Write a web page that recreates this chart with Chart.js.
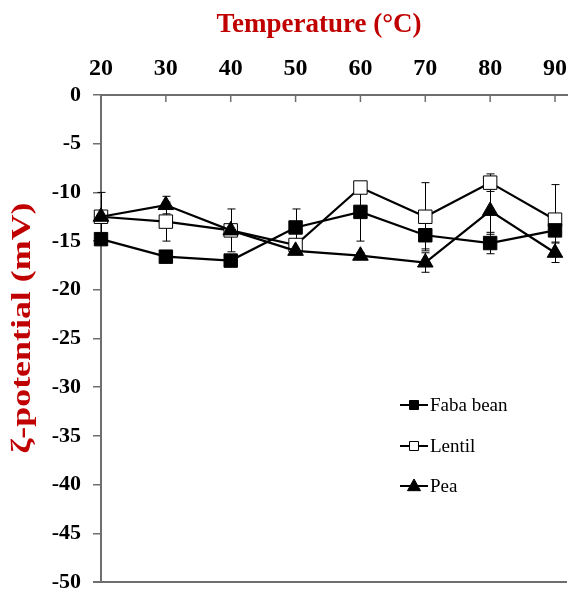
<!DOCTYPE html>
<html>
<head>
<meta charset="utf-8">
<script src="https://cdn.jsdelivr.net/npm/chart.js@4.4.0/dist/chart.umd.min.js"></script>
<style>
  body { margin: 0; background: #fff; }
  #wrap { width: 568px; height: 589px; }
</style>
</head>
<body>
<div id="wrap"><canvas id="zeta-chart" width="568" height="589"></canvas></div>
<script>
// temperatures (°C) and zeta potential (mV)
const temps = [20, 30, 40, 50, 60, 70, 80, 90];
const fabaBean = [-14.8, -16.6, -17.0, -13.6, -12.0, -14.4, -15.2, -13.9];
const lentil = [-12.5, -13.0, -13.9, -15.4, -9.5, -12.5, -9.0, -12.8];
const pea = [-12.5, -11.3, -13.9, -16.0, -16.5, -17.2, -11.9, -16.2];
// error bars (+/-)
const fabaErr = [0.3, 0.5, 0.5, 1.9, 3.0, 1.4, 1.1, 1.2];
const lentilErr = [2.5, 2.0, 0.5, 0.5, 0.5, 3.5, 0.9, 3.6];
const peaErr = [0.3, 0.9, 2.2, 0.3, 0.3, 1.0, 2.4, 1.0];
const yTicks = [0, -5, -10, -15, -20, -25, -30, -35, -40, -45, -50];

const xTitle = "Temperature (°C)";
const yTitle = "ζ-potential (mV)";
const red = "#c00000";
const axisGray = "#6e6e6e";

function toPoints(vals) {
    return temps.map((t, i) => ({ x: t, y: vals[i] }));
}

const series = [
    { label: "Faba bean", data: fabaBean, err: fabaErr, style: "rect", fill: "#000", order: 1 },
    { label: "Lentil", data: lentil, err: lentilErr, style: "rect", fill: "#fff", order: 2 },
    { label: "Pea", data: pea, err: peaErr, style: "triangle", fill: "#000", order: 0 }
];

function drawMarker(ctx, style, x, y, size, fill) {
    ctx.save();
    ctx.fillStyle = fill;
    ctx.strokeStyle = "#000";
    ctx.lineWidth = 1;
    ctx.beginPath();
    if (style === "rect") {
        ctx.rect(x - size / 2, y - size / 2, size, size);
    } else {
        const h = size * 0.9;
        ctx.moveTo(x, y - h * 0.6);
        ctx.lineTo(x + size / 2, y + h * 0.4);
        ctx.lineTo(x - size / 2, y + h * 0.4);
        ctx.closePath();
    }
    ctx.fill();
    ctx.stroke();
    ctx.restore();
}

// drop the extra room Chart.js keeps for half of the edge labels
function noEdgePadding(scale) {
    scale.paddingLeft = 0;
    scale.paddingRight = 0;
    scale.paddingTop = 0;
    scale.paddingBottom = 0;
}

const extras = {
    id: "extras",
    beforeDatasetsDraw(chart) {
        const ctx = chart.ctx;
        const xs = chart.scales.x, ys = chart.scales.y;
        ctx.save();
        ctx.strokeStyle = "#000";
        ctx.lineWidth = 1;
        series.forEach(s => {
            s.data.forEach((v, i) => {
                const px = Math.round(xs.getPixelForValue(temps[i])) + 0.5;
                const top = ys.getPixelForValue(v + s.err[i]);
                const bot = ys.getPixelForValue(v - s.err[i]);
                ctx.beginPath();
                ctx.moveTo(px, top); ctx.lineTo(px, bot);
                ctx.moveTo(px - 4, top); ctx.lineTo(px + 4, top);
                ctx.moveTo(px - 4, bot); ctx.lineTo(px + 4, bot);
                ctx.stroke();
            });
        });
        ctx.restore();
    },
    afterDraw(chart) {
        const ctx = chart.ctx;
        const area = chart.chartArea;
        const xs = chart.scales.x;
        ctx.save();
        // inward ticks on the top axis
        ctx.strokeStyle = axisGray;
        ctx.lineWidth = 1.5;
        temps.forEach(t => {
            const px = xs.getPixelForValue(t);
            ctx.beginPath();
            ctx.moveTo(px, area.top);
            ctx.lineTo(px, area.top + 7);
            ctx.stroke();
        });
        // bottom frame line
        ctx.lineWidth = 2;
        ctx.beginPath();
        ctx.moveTo(area.left - 8, area.bottom);
        ctx.lineTo(area.right, area.bottom);
        ctx.stroke();

        // titles
        ctx.fillStyle = red;
        ctx.font = "bold 27px 'Liberation Serif'";
        ctx.textAlign = "center";
        ctx.textBaseline = "middle";
        ctx.fillText(xTitle, 319, 25);
        ctx.translate(23, 328);
        ctx.rotate(-Math.PI / 2);
        ctx.font = "bold 28px 'Liberation Serif'";
        const w = ctx.measureText(yTitle).width;
        ctx.scale(251 / w, 1);
        ctx.fillText(yTitle, 0, 0);
        ctx.restore();

        // legend inside the plot
        ctx.save();
        ctx.font = "19px 'Liberation Serif'";
        ctx.textAlign = "left";
        ctx.textBaseline = "middle";
        ctx.fillStyle = "#000";
        const lx = 400, ly = [405, 446, 486];
        series.forEach((s, i) => {
            ctx.strokeStyle = "#000";
            ctx.lineWidth = 2;
            ctx.beginPath();
            ctx.moveTo(lx, ly[i]);
            ctx.lineTo(lx + 28, ly[i]);
            ctx.stroke();
            drawMarker(ctx, s.style, lx + 14, ly[i], s.style === "rect" ? 9 : 13, s.fill);
            ctx.fillStyle = "#000";
            ctx.fillText(s.label, lx + 30, ly[i] + 1);
        });
        ctx.restore();
    }
};

const ctx = document.getElementById("zeta-chart").getContext("2d");
const chart = new Chart(ctx, {
    type: "line",
    data: {
        datasets: series.map(s => ({
            label: s.label,
            data: toPoints(s.data),
            borderColor: "#000",
            borderWidth: 2.2,
            pointStyle: s.style,
            pointRadius: s.style === "rect" ? 9.5 : 9,
            pointBackgroundColor: s.fill,
            pointBorderColor: "#000",
            pointBorderWidth: 1,
            fill: false,
            clip: false,
            tension: 0,
            order: s.order
        }))
    },
    options: {
        responsive: false,
        animation: false,
        layout: { autoPadding: false, padding: { left: 0, top: 0, right: 1, bottom: 7 } },
        plugins: {
            legend: { display: false },
            tooltip: { enabled: false }
        },
        scales: {
            x: {
                type: "linear",
                position: "top",
                min: 20,
                max: 91.85,
                afterBuildTicks: scale => { scale.ticks = temps.map(v => ({ value: v })); },
                afterFit: scale => { scale.height = 95; noEdgePadding(scale); },
                grid: { display: false },
                border: { display: true, color: axisGray, width: 2 },
                ticks: {
                    color: "#000",
                    font: { family: "'Liberation Serif'", size: 24, weight: "bold" },
                    padding: 4,
                    maxRotation: 0
                }
            },
            y: {
                type: "linear",
                min: -50,
                max: 0,
                afterBuildTicks: scale => { scale.ticks = yTicks.map(v => ({ value: v })); },
                afterFit: scale => { scale.width = 101; noEdgePadding(scale); },
                grid: { drawOnChartArea: false, drawTicks: true, tickLength: 8, color: axisGray, lineWidth: 1.5 },
                border: { display: true, color: axisGray, width: 2 },
                ticks: {
                    color: "#000",
                    font: { family: "'Liberation Serif'", size: 22, weight: "bold" },
                    padding: 12
                }
            }
        }
    },
    plugins: [extras]
});
</script>
</body>
</html>
